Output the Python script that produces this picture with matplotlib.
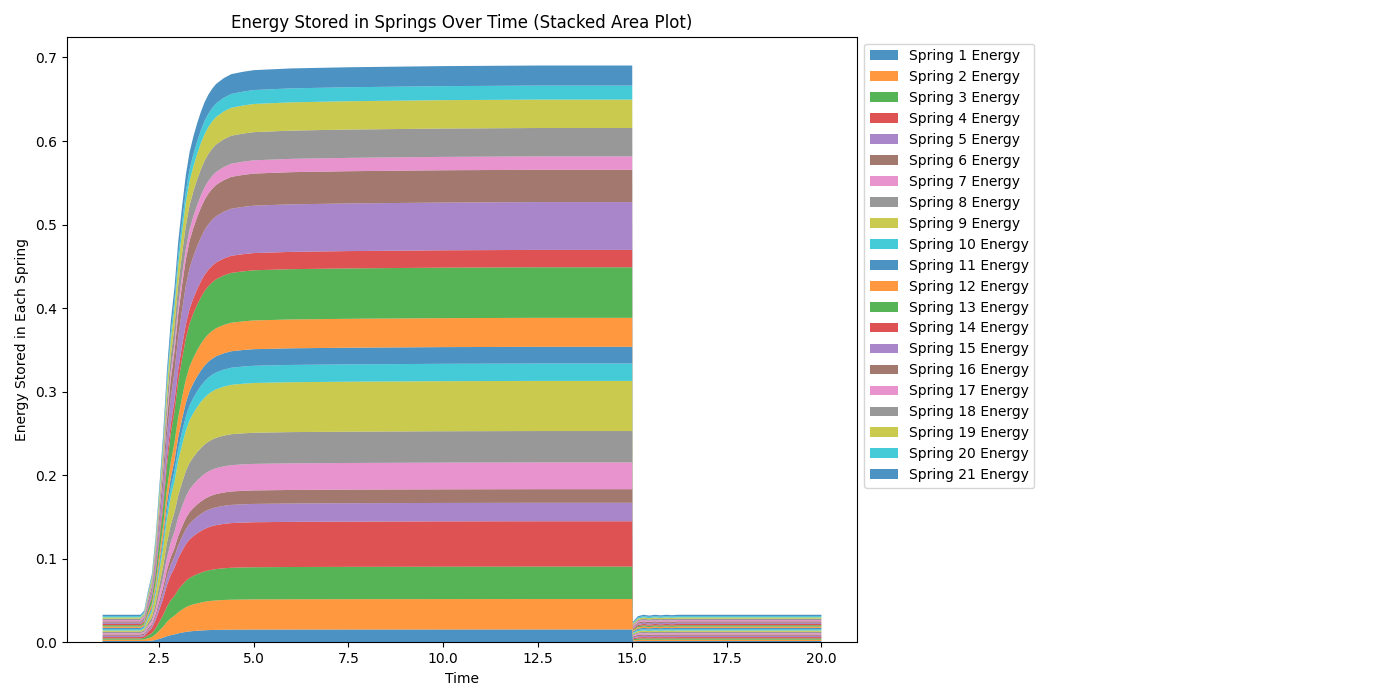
import numpy as np
import matplotlib
matplotlib.use("Agg")
import matplotlib.pyplot as plt

# sample times (s)
time = [1.0, 2.0, 2.1, 2.2, 2.3, 2.4, 2.5, 2.6, 2.7, 2.8, 2.9, 3.0, 3.1, 3.2,
        3.3, 3.4, 3.5, 3.6, 3.7, 3.8, 3.9, 4.0, 4.2, 4.4, 4.7, 5.0, 6.0,
        7.5, 10.0, 12.5, 15.0,
        15.02, 15.15, 15.3, 15.45, 15.6, 15.75, 15.9, 16.05, 16.2, 17.5, 20.0]

# fraction of the loaded (plateau) energy present at each time
rise_frac = [0.0, 0.0, 0.017, 0.07, 0.11, 0.18, 0.27, 0.36, 0.47, 0.555, 0.615,
             0.695, 0.755, 0.81, 0.85, 0.877, 0.9, 0.92, 0.937, 0.95, 0.96,
             0.968, 0.978, 0.985, 0.989, 0.992, 0.995,
             0.997, 0.999, 1.0, 1.0,
             0.0, 0.0, 0.0, 0.0, 0.0, 0.0, 0.0, 0.0, 0.0, 0.0, 0.0]

# fraction of the resting energy present at each time
rest_frac = [1.0, 1.0, 0.8, 0.4, 0.15, 0.05, 0.0, 0.0, 0.0, 0.0, 0.0,
             0.0, 0.0, 0.0, 0.0, 0.0, 0.0, 0.0, 0.0, 0.0, 0.0,
             0.0, 0.0, 0.0, 0.0, 0.0, 0.0,
             0.0, 0.0, 0.0, 0.0,
             0.75, 0.95, 1.0, 0.97, 1.0, 0.98, 1.0, 0.985, 1.0, 1.0, 1.0]

# energy of each spring while loaded (read at t ~ 12.5)
plateau = [0.0154, 0.0364, 0.0388, 0.0543, 0.0221, 0.0163, 0.0320,
           0.0376, 0.0600, 0.0208, 0.0200, 0.0347, 0.0605, 0.0208,
           0.0572, 0.0387, 0.0160, 0.0340, 0.0340, 0.0168, 0.0240]

# resting energy of each spring (before and after the load)
rest = [0.00157] * 21

labels = [f"Spring {i + 1} Energy" for i in range(len(plateau))]

t = np.array(time)
energies = [np.array(rest_frac) * r + np.array(rise_frac) * p
            for r, p in zip(rest, plateau)]

fig, ax = plt.subplots(figsize=(14, 7), dpi=100)
ax.stackplot(t, *energies, labels=labels, alpha=0.8)

ax.set_title("Energy Stored in Springs Over Time (Stacked Area Plot)")
ax.set_xlabel("Time")
ax.set_ylabel("Energy Stored in Each Spring")
ax.legend(loc="upper left", bbox_to_anchor=(1, 1))

fig.subplots_adjust(left=0.0476, right=0.6124, bottom=0.0824, top=0.9476)
fig.savefig("out.png", dpi=100)
